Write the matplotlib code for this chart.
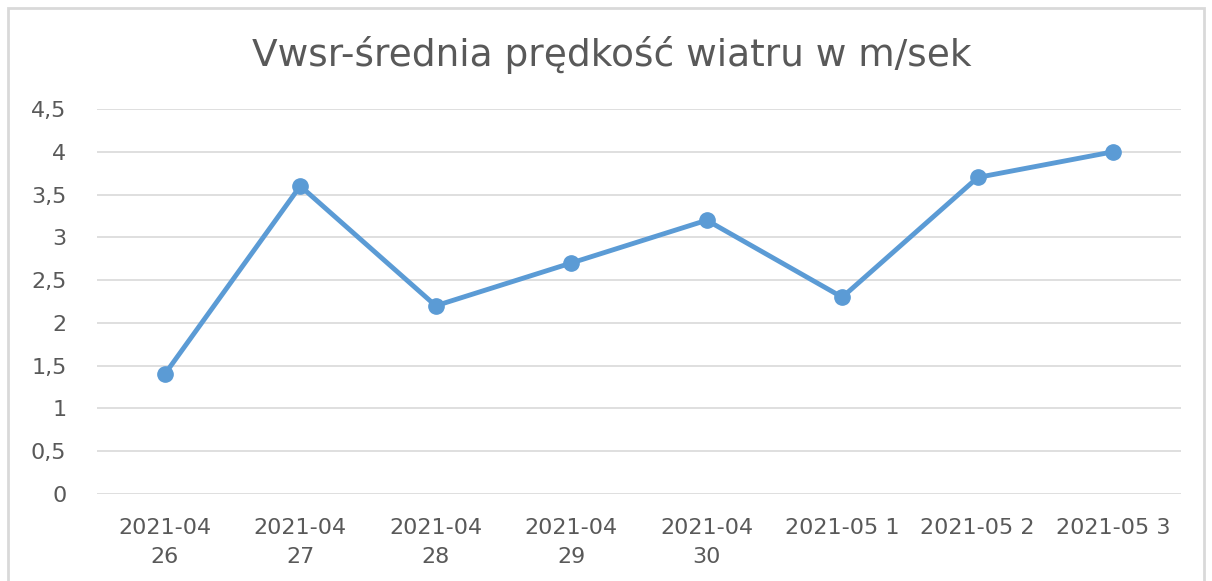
import matplotlib.pyplot as plt
from matplotlib.patches import Rectangle

# data
labels = ["2021-04\n26", "2021-04\n27", "2021-04\n28", "2021-04\n29", "2021-04\n30",
          "2021-05 1", "2021-05 2", "2021-05 3"]
vwsr = [1.4, 3.6, 2.2, 2.7, 3.2, 2.3, 3.7, 4.0]
yticks = [0, 0.5, 1, 1.5, 2, 2.5, 3, 3.5, 4, 4.5]
ytick_labels = ["0", "0,5", "1", "1,5", "2", "2,5", "3", "3,5", "4", "4,5"]

plt.rcParams['font.family'] = ['DejaVu Sans']

fig = plt.figure(figsize=(12.12, 5.81), dpi=100)
ax = fig.add_axes([97 / 1212, 1 - 494 / 581, (1181 - 97) / 1212, (494 - 109) / 581])

# chart border like the spreadsheet chart frame
fig.patches.append(Rectangle((8 / 1212, -0.05), 1196 / 1212, 1 - 8 / 581 + 0.05,
                             transform=fig.transFigure, fill=False,
                             edgecolor="#d9d9d9", linewidth=2))

x = list(range(len(vwsr)))
ax.plot(x, vwsr, color="#5b9bd5", linewidth=3.5, marker="o", markersize=11, zorder=3)

ax.set_xlim(-0.5, len(vwsr) - 0.5)
ax.set_ylim(0, 4.5)
ax.set_yticks(yticks)
ax.set_yticklabels(ytick_labels)
ax.set_xticks(x)
ax.set_xticklabels(labels, linespacing=1.6)
ax.grid(axis="y", color="#d9d9d9", linewidth=1.2)
ax.set_axisbelow(True)
for s in ax.spines.values():
    s.set_visible(False)
ax.tick_params(length=0, labelsize=16, colors="#595959")
ax.tick_params(axis="y", pad=22)
ax.tick_params(axis="x", pad=17)

fig.text(0.505, 1 - 55 / 581, "Vwsr-średnia prędkość wiatru w m/sek", ha="center", va="center",
         fontsize=27, color="#595959")

fig.savefig("out.png", dpi=100)
